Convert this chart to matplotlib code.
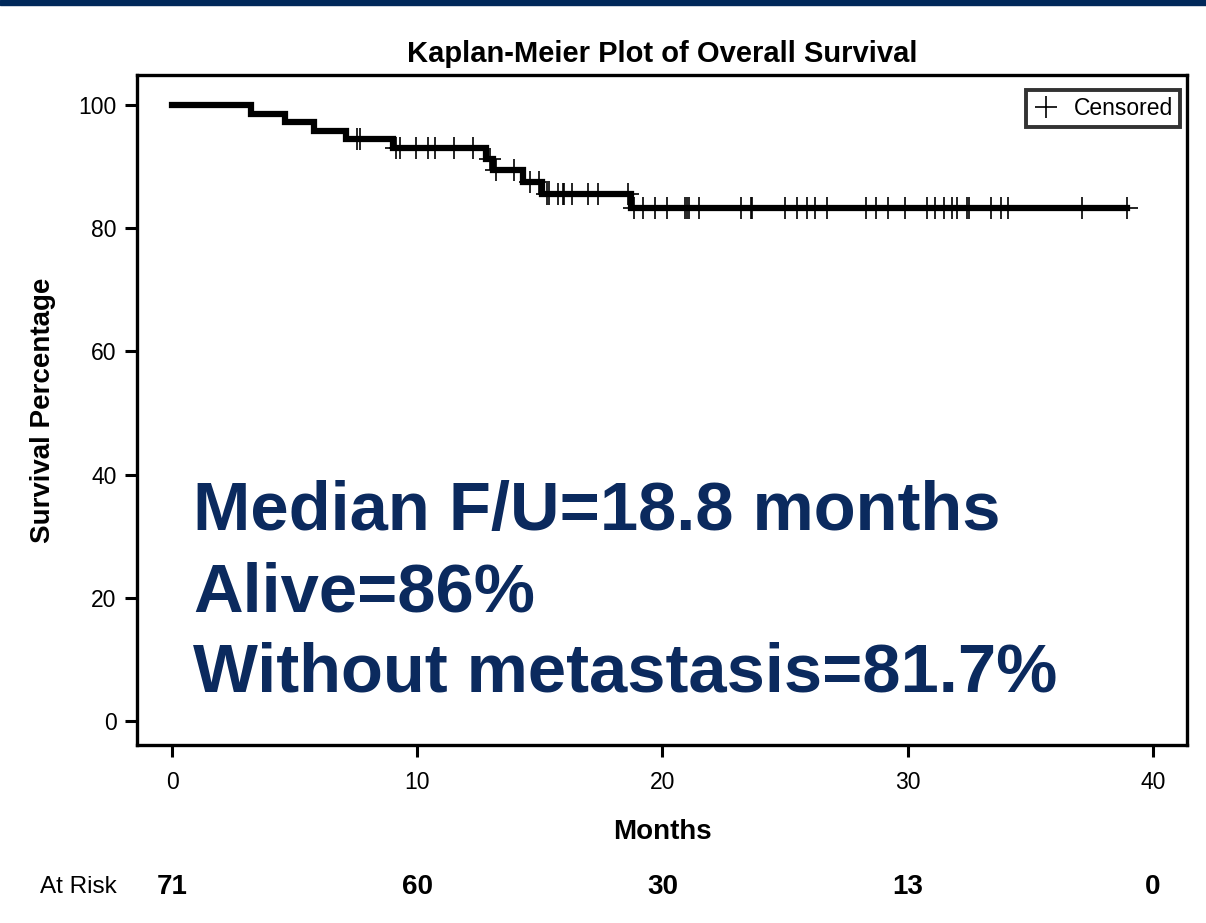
import numpy as np
import matplotlib.pyplot as plt
import matplotlib.transforms as mtransforms
from matplotlib import font_manager

plt.rcParams['font.family'] = ['Liberation Sans', 'DejaVu Sans']

# Kaplan-Meier steps (months, survival % after the step)
step_times = [0, 3.2, 4.6, 5.8, 7.1, 9.0, 12.8, 13.1, 14.3, 15.1, 18.7]
step_surv = [100, 98.6, 97.2, 95.8, 94.4, 93.0, 91.3, 89.4, 87.5, 85.6, 83.2]
end_time = 38.96

# censored observations (months)
censor_times = [7.55, 7.65, 9.15, 9.3, 9.95, 10.45, 10.72, 11.5, 12.28, 12.95,
                13.2, 13.95, 14.6, 14.98, 15.28, 15.38, 15.75, 15.93, 16.0,
                16.3, 16.97, 17.38, 18.6, 18.85, 19.2, 19.7, 20.2, 20.9, 21.0,
                21.1, 21.5, 23.2, 23.6, 23.65, 25.0, 25.5, 25.9, 26.2, 26.7,
                28.3, 28.7, 29.2, 29.9, 30.8, 31.1, 31.5, 31.8, 32.0, 32.4,
                32.5, 33.4, 33.8, 34.1, 37.1, 38.96]

risk_months = [0, 10, 20, 30, 40]
at_risk = [71, 60, 30, 13, 0]

notes = ["Median F/U=18.8 months", "Alive=86%", "Without metastasis=81.7%"]

navy = "#0b2a5e"

fig = plt.figure(figsize=(12.06, 9.23), dpi=100)
ax = fig.add_axes([137 / 1206, 1 - 745 / 923, 1050 / 1206, 670 / 923])

# top banner
fig.patches.append(plt.Rectangle((0, 1 - 5 / 923), 1, 5 / 923, transform=fig.transFigure,
                                 color="#00285a", zorder=0))

# survival curve
xs = step_times + [end_time]
ys = step_surv + [step_surv[-1]]
ax.step(xs, ys, where="post", color="black", lw=4.5, solid_joinstyle="miter", zorder=3)

# censor marks on the curve
idx = np.searchsorted(step_times, censor_times, side="right") - 1
cens_y = np.array(step_surv)[idx]
ax.plot(censor_times, cens_y, ls="none", marker="+", ms=16, mew=1.2, color="black",
        zorder=4, label="Censored")

ax.set_xlim(-1.43, 41.39)
ax.set_ylim(-3.9, 104.87)
ax.set_xticks([0, 10, 20, 30, 40])
ax.set_yticks([0, 20, 40, 60, 80, 100])
ax.tick_params(length=8.6, width=2.2, labelsize=16.5)
ax.tick_params(axis="x", pad=10)
ax.tick_params(axis="y", pad=6)
for s in ax.spines.values():
    s.set_linewidth(2.4)

ax.set_title("Kaplan-Meier Plot of Overall Survival", fontsize=21, fontweight="bold", pad=9)
ax.set_xlabel("Months", fontsize=20, fontweight="bold", labelpad=18)
ax.set_ylabel("Survival Percentage", fontsize=20, fontweight="bold", labelpad=16)

leg = ax.legend(loc="upper right", bbox_to_anchor=(0.9933, 0.9776), fontsize=16.5,
                frameon=True, fancybox=False, borderpad=0.3, handlelength=1.2,
                handletextpad=0.6, borderaxespad=0)
leg.get_frame().set_edgecolor("black")
leg.get_frame().set_linewidth(2.8)

# big annotation
for txt, base in zip(notes, [530, 611, 692]):
    fig.text(193 / 1206, 1 - base / 923, txt, fontsize=49.5, fontweight="bold",
             color=navy, va="baseline", ha="left")

# at risk row
names = {f.name for f in font_manager.fontManager.ttflist}
if "Liberation Sans Narrow" in names:
    narrow = ["Liberation Sans Narrow", "Liberation Sans"]
    label_fs = 20
else:
    narrow = ["Liberation Sans"]
    label_fs = 17.5
fig.text(40 / 1206, 1 - 887 / 923, "At Risk", fontsize=label_fs, family=narrow,
         va="center", ha="left")
trans = mtransforms.blended_transform_factory(ax.transData, fig.transFigure)
for m, n in zip(risk_months, at_risk):
    ax.text(m, 1 - 887 / 923, str(n), transform=trans, fontsize=20, fontweight="bold",
            ha="center", va="center", clip_on=False)

fig.savefig("out.png", dpi=100)
